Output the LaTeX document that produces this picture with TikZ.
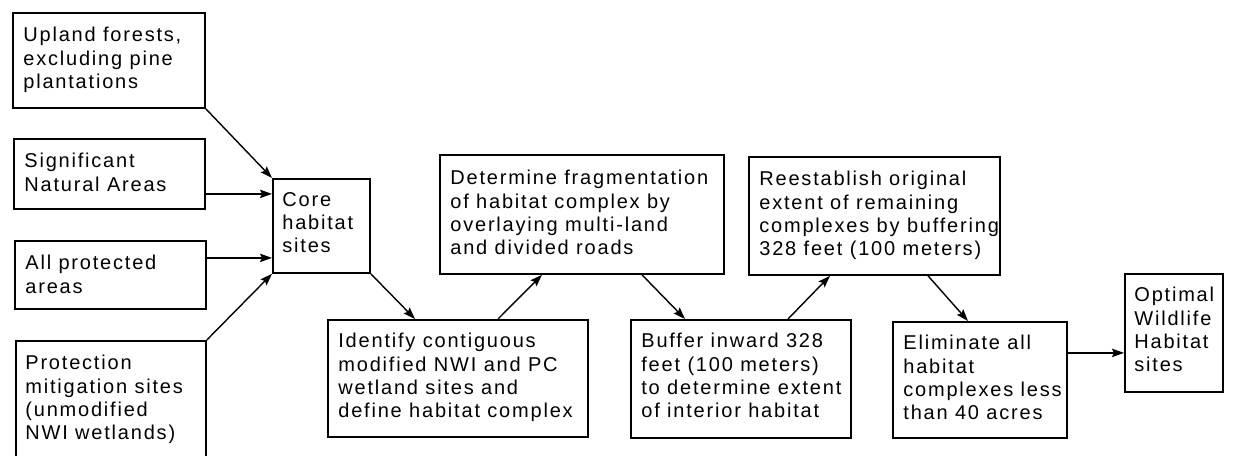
\documentclass[tikz,border=0pt]{standalone}
\usepackage{fontspec}
\setmainfont{Liberation Sans}[LetterSpace=9]
\usetikzlibrary{arrows.meta,calc}

\tikzset{
  box/.style={draw, line width=0.9pt, rectangle, inner sep=0pt, anchor=north west},
  txt/.style={anchor=north west, inner sep=0pt, align=left,
              font=\fontsize{10pt}{11.65pt}\selectfont},
  arr/.style={line width=0.7pt, -{Stealth[length=6pt,width=4.2pt,inset=1pt]}},
}

\begin{document}
\begin{tikzpicture}[x=0.5pt, y=-0.5pt]
  \useasboundingbox (0,0) rectangle (1252,455);
  \clip (0,0) rectangle (1252,455);

  % source layers
  \node[box, minimum width=96pt,  minimum height=47.5pt] (upl)  at (12,12)  {};
  \node[box, minimum width=95.5pt,minimum height=35pt]   (sig)  at (13,138) {};
  \node[box, minimum width=95.5pt,minimum height=34pt]   (allp) at (14,240) {};
  \node[box, minimum width=95pt,  minimum height=65pt]   (prot) at (15,340) {};

  % processing steps
  \node[box, minimum width=48.5pt, minimum height=47pt]   (core) at (272,178)  {};
  \node[box, minimum width=130pt,  minimum height=58.5pt] (idf)  at (327,319)  {};
  \node[box, minimum width=142pt,  minimum height=59.5pt] (det)  at (439,154)  {};
  \node[box, minimum width=110pt,  minimum height=59pt]   (buf)  at (630,319)  {};
  \node[box, minimum width=125.5pt,minimum height=59pt]   (ree)  at (748,156)  {};
  \node[box, minimum width=87pt,   minimum height=58pt]   (eli)  at (892,321)  {};
  \node[box, minimum width=49pt,   minimum height=59pt]   (opt)  at (1124,273) {};

  % labels
  \node[txt] (upl-t)  at ([shift={(5.5pt,-7.5pt)}]upl.north west)  {Upland forests,\\excluding pine\\plantations};
  \node[txt] (sig-t)  at ([shift={(5.5pt,-7.5pt)}]sig.north west)  {Significant\\Natural Areas};
  \node[txt] (allp-t) at ([shift={(5.5pt,-7.5pt)}]allp.north west) {All protected\\areas};
  \node[txt] (prot-t) at ([shift={(5pt,-7.5pt)}]prot.north west)   {Protection\\mitigation sites\\(unmodified\\NWI wetlands)};
  \node[txt] (core-t) at ([shift={(5pt,-7pt)}]core.north west)     {Core\\habitat\\sites};
  \node[txt] (idf-t)  at ([shift={(5.5pt,-7pt)}]idf.north west)    {Identify contiguous\\modified NWI and PC\\wetland sites and\\define habitat complex};
  \node[txt] (det-t)  at ([shift={(5.5pt,-8pt)}]det.north west)    {Determine fragmentation\\of habitat complex by\\overlaying multi-land\\and divided roads};
  \node[txt] (buf-t)  at ([shift={(5.5pt,-7pt)}]buf.north west)    {Buffer inward 328\\feet (100 meters)\\to determine extent\\of interior habitat};
  \node[txt] (ree-t)  at ([shift={(5.5pt,-7.5pt)}]ree.north west)  {Reestablish original\\extent of remaining\\complexes by buffering\\328 feet (100 meters)};
  \node[txt] (eli-t)  at ([shift={(5.5pt,-7pt)}]eli.north west)    {Eliminate all\\habitat\\complexes less\\than 40 acres};
  \node[txt] (opt-t)  at ([shift={(5pt,-7pt)}]opt.north west)      {Optimal\\Wildlife\\Habitat\\sites};

  % connectors
  \draw[arr] (upl.south east) -- (core.north west);
  \draw[arr] ([yshift=-10pt]sig.east) -- ([yshift=-10pt]sig.east -| core.west);
  \draw[arr] ([yshift=8.5pt]allp.east) -- ([yshift=8.5pt]allp.east -| core.west);
  \draw[arr] (prot.north east) -- (core.south west);
  \draw[arr] (core.south east) -- ([xshift=44pt]idf.north west);
  \draw[arr] ([xshift=85.5pt]idf.north west) -- ([xshift=51.5pt]det.south west);
  \draw[arr] ([xshift=101.5pt]det.south west) -- ([xshift=27.5pt]buf.north west);
  \draw[arr] ([xshift=79pt]buf.north west) -- ([xshift=41pt]ree.south west);
  \draw[arr] ([xshift=90pt]ree.south west) -- ([xshift=38pt]eli.north west);
  \draw[arr] ([yshift=13.5pt]eli.east) -- ([yshift=13.5pt]eli.east -| opt.west);
\end{tikzpicture}
\end{document}
